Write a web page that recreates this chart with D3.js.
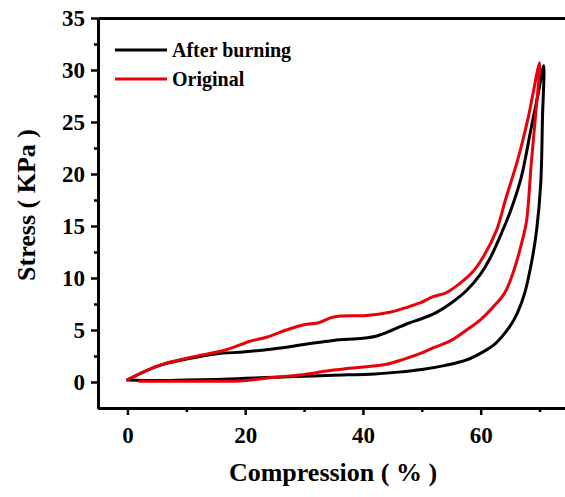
<!DOCTYPE html>
<html><head><meta charset="utf-8">
<script src="https://cdn.jsdelivr.net/npm/d3@7"></script>
<style>
html,body{margin:0;padding:0;background:#fff;}
svg{display:block;}
text{font-family:"Liberation Serif","Times New Roman",serif !important;font-weight:bold;fill:#000;}
</style></head>
<body>
<script>
// ---- data ----
const seriesNames = ["After burning", "Original"];
const seriesColors = ["#000000", "#e8000b"];
// After burning: loading branch then unloading branch
const burnLoadX = [0, 5, 10, 15, 20, 25, 30, 35, 40, 42.5, 45, 47.5, 50, 52.5, 55, 57.6, 60, 61.5, 63.6, 65.1, 66.9, 68.6, 69.8, 70.7];
const burnLoadY = [0.2, 1.5, 2.2, 2.7, 2.9, 3.2, 3.6, 4.0, 4.2, 4.45, 5.0, 5.6, 6.1, 6.7, 7.6, 8.8, 10.4, 11.8, 14.4, 16.5, 19.7, 24.5, 27.8, 30.4];
const burnUnloadX = [70.7, 70.5, 70.2, 69.5, 68.8, 67.5, 66.2, 64.9, 62.5, 60.4, 57.5, 54, 50, 46, 42, 35, 30, 25, 20, 15, 10, 5, 0];
const burnUnloadY = [30.4, 25.5, 19.1, 14.6, 12.0, 8.6, 6.6, 5.3, 3.7, 2.9, 2.1, 1.6, 1.2, 0.95, 0.78, 0.65, 0.55, 0.45, 0.35, 0.25, 0.2, 0.15, 0.2];
// Original
const origLoadX = [0, 5.4, 11.1, 16.8, 20.7, 23.6, 27, 30, 32.5, 35, 40.6, 44.6, 47, 49.7, 51.9, 54.2, 56.5, 58.5, 60.4, 62.7, 64.2, 66.4, 68.1, 70.0];
const origLoadY = [0.2, 1.6, 2.4, 3.1, 3.9, 4.3, 5.0, 5.5, 5.7, 6.25, 6.4, 6.7, 7.1, 7.6, 8.2, 8.6, 9.5, 10.5, 12.0, 14.6, 17.5, 21.6, 25.5, 30.7];
const origUnloadX = [70.0, 69.3, 68.6, 67.8, 67.2, 65.5, 64, 62.1, 60, 57.6, 55, 52, 50, 47, 44, 40, 35, 29.3, 25, 19, 15, 10, 5, 2];
const origUnloadY = [30.7, 25.5, 21.1, 15.5, 13.9, 10.5, 8.5, 7.2, 6.0, 5.0, 4.0, 3.3, 2.8, 2.2, 1.7, 1.45, 1.15, 0.67, 0.45, 0.1, 0.08, 0.08, 0.08, 0.08];
const xTicks = [0, 20, 40, 60];
const xMinor = [10, 30, 50, 70];
const yTicks = [0, 5, 10, 15, 20, 25, 30, 35];
const yMinor = [2.5, 7.5, 12.5, 17.5, 22.5, 27.5, 32.5];
const xLabel = "Compression ( % )";
const yLabel = "Stress ( KPa )";

// ---- layout ----
const W = 565, H = 497;
const svg = d3.select("body").append("svg").attr("width", W).attr("height", H);
const x = d3.scaleLinear().domain([-5, 75]).range([98, 569]);
const y = d3.scaleLinear().domain([-2.5, 35]).range([408, 18]);

const zip = (xs, ys) => xs.map((v, i) => [v, ys[i]]);
const series = [
  zip(burnLoadX, burnLoadY).concat(zip(burnUnloadX, burnUnloadY).slice(1)),
  zip(origLoadX, origLoadY).concat(zip(origUnloadX, origUnloadY).slice(1))
];

const line = d3.line().x(d => x(d[0])).y(d => y(d[1])).curve(d3.curveCatmullRom.alpha(0.5));

series.forEach((s, i) => {
  svg.append("path").datum(s).attr("d", line)
    .attr("fill", "none").attr("stroke", seriesColors[i])
    .attr("stroke-width", 3).attr("stroke-linejoin", "round").attr("stroke-linecap", "round");
});

// axes
function styleAxis(g) {
  g.attr("font-family", null);
  g.selectAll("path.domain").attr("stroke", "#000").attr("stroke-width", 3);
  g.selectAll(".tick line").attr("stroke", "#000").attr("stroke-width", 2.5);
}
const gx = svg.append("g").attr("transform", `translate(0,${y(-2.5)})`)
  .call(d3.axisBottom(x).tickValues(xTicks).tickSize(7).tickSizeOuter(0).tickPadding(12));
gx.selectAll("text").attr("font-size", 23);
styleAxis(gx);
const gxm = svg.append("g").attr("transform", `translate(0,${y(-2.5)})`)
  .call(d3.axisBottom(x).tickValues(xMinor).tickSize(4).tickSizeOuter(0).tickFormat(""));
styleAxis(gxm);

const gy = svg.append("g").attr("transform", `translate(${x(-5)},0)`)
  .call(d3.axisLeft(y).tickValues(yTicks).tickSize(7).tickSizeOuter(0).tickPadding(6));
gy.selectAll("text").attr("font-size", 23);
styleAxis(gy);
const gym = svg.append("g").attr("transform", `translate(${x(-5)},0)`)
  .call(d3.axisLeft(y).tickValues(yMinor).tickSize(4).tickSizeOuter(0).tickFormat(""));
styleAxis(gym);

const gt = svg.append("g").attr("transform", `translate(0,${y(35)})`)
  .call(d3.axisTop(x).tickValues([]).tickSizeOuter(0));
styleAxis(gt);

// axis titles
svg.append("text").attr("x", 333).attr("y", 481).attr("text-anchor", "middle")
  .attr("font-size", 26).text(xLabel);
svg.append("text").attr("transform", "translate(35,205) rotate(-90)").attr("text-anchor", "middle")
  .attr("font-size", 26).text(yLabel);

// legend
seriesNames.forEach((n, i) => {
  const ly = 50 + i * 29;
  svg.append("line").attr("x1", 115).attr("x2", 167).attr("y1", ly).attr("y2", ly)
    .attr("stroke", seriesColors[i]).attr("stroke-width", 3);
  svg.append("text").attr("x", 172).attr("y", ly + 7).attr("font-size", 20).text(n);
});
</script>
</body></html>
